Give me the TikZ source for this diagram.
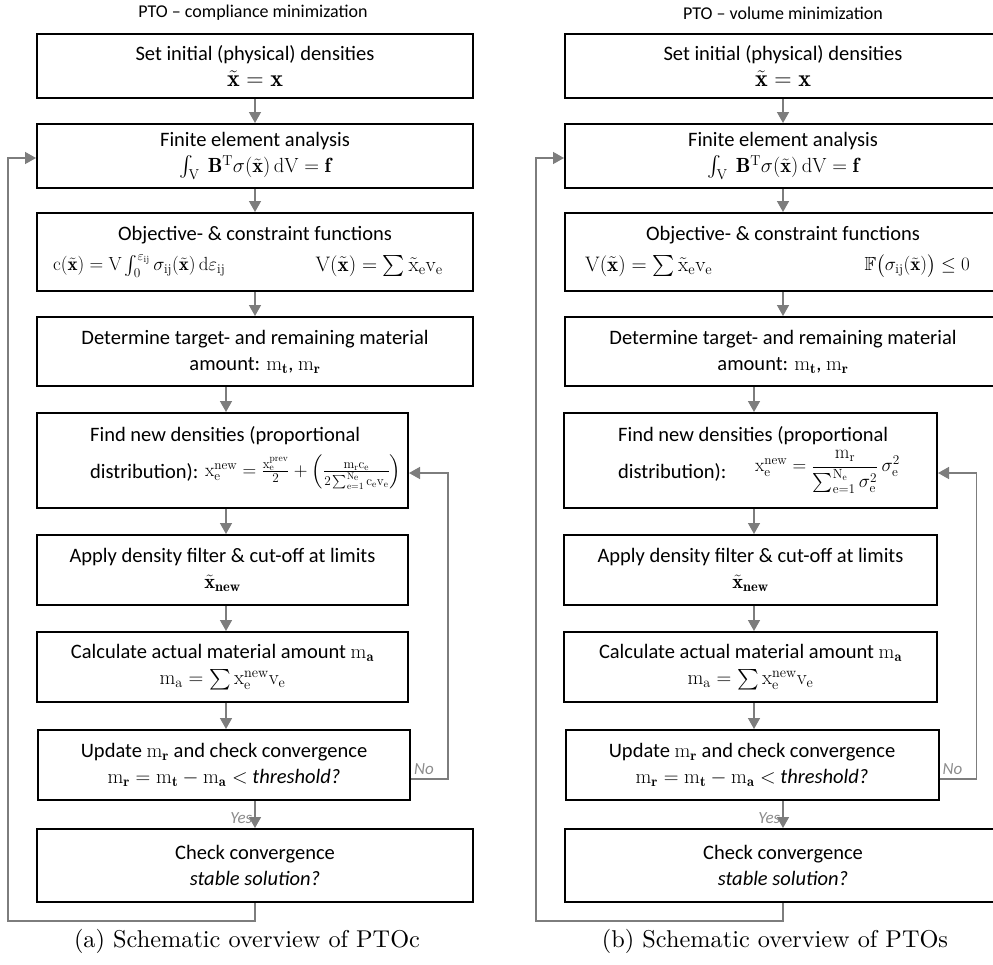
\RequirePackage{fix-cm}
\documentclass[tikz,border=0pt]{standalone}
\usepackage{amsmath,amssymb}
\usepackage{fontspec}
\newfontfamily\calibri{Carlito}
\newfontfamily\capfont{lmroman10-regular}[Extension=.otf]
\usetikzlibrary{arrows.meta}
\definecolor{conn}{RGB}{125,125,125}
\definecolor{labc}{RGB}{140,140,140}
\newcommand\mymathbig[1]{{\fontsize{24}{26}\selectfont#1}}
\begin{document}
\begin{tikzpicture}[x=1pt,y=-1pt,
  box/.style={draw=black, line width=2pt, inner sep=0pt, align=center,
    font=\calibri\fontsize{20.5}{26}\selectfont},
  txt/.style={inner sep=0pt, font=\calibri\fontsize{20.5}{26}\selectfont},
  arr/.style={draw=conn, line width=1.5pt, -{Triangle[width=12pt,length=11pt]}},
  lab/.style={inner sep=0pt, text=labc, font=\calibri\itshape\fontsize{17}{19}\selectfont},
  ttl/.style={inner sep=0pt, font=\calibri\fontsize{18}{20}\selectfont},
  captxt/.style={inner sep=0pt, font=\capfont\fontsize{24.3}{28}\selectfont}]
\useasboundingbox (0,0) rectangle (993,964);

% ---------------- left panel ----------------
\node[ttl] (tL) at (253,13) {PTO \textendash\ compliance minimization};
\node[box, minimum width=436pt, minimum height=64pt] (L1) at (255,66)
  {Set initial (physical) densities\\ \mymathbig{$\tilde{\mathbf{x}} = \mathbf{x}$}};
\node[box, minimum width=436pt, minimum height=64pt] (L2) at (255,156)
  {Finite element analysis\\ $\int_{\mathrm{V}}\ \mathbf{B}^{\mathrm{T}}\sigma(\tilde{\mathbf{x}})\,\mathrm{dV} = \mathbf{f}$};
\node[box, minimum width=436pt, minimum height=78pt] (L3) at (255,252) {};
\node[txt] (L3a) at (255,235) {Objective- \& constraint functions};
\node[txt, anchor=west, font=\calibri\fontsize{19}{25}\selectfont] (L3b) at (53,266)
  {$\mathrm{c}(\tilde{\mathbf{x}}) = \mathrm{V}\int_0^{\varepsilon_{\mathrm{ij}}}\sigma_{\mathrm{ij}}(\tilde{\mathbf{x}})\,\mathrm{d}\varepsilon_{\mathrm{ij}}$};
\node[txt, anchor=east, font=\calibri\fontsize{21}{26}\selectfont] (L3c) at (443,266)
  {$\mathrm{V}(\tilde{\mathbf{x}}) = \sum \tilde{\mathrm{x}}_{\mathrm{e}}\mathrm{v}_{\mathrm{e}}$};
\node[box, minimum width=436pt, minimum height=69pt] (L4) at (255,351.5)
  {Determine target- and remaining material\\ amount: $\mathrm{m}_{\mathbf{t}}$, $\mathrm{m}_{\mathbf{r}}$};
\node[box, minimum width=371pt, minimum height=95pt] (L5) at (222.5,460.5) {};
\node[txt, anchor=west] (L5a) at (90,436) {Find new densities (proportional};
\node[txt, anchor=west] (L5b) at (90,472) {distribution):};
\node[txt, anchor=west, font=\calibri\fontsize{19}{25}\selectfont] (L5c) at (205,472)
  {$\mathrm{x}_{\mathrm{e}}^{\mathrm{new}} = \frac{\mathrm{x}_{\mathrm{e}}^{\mathrm{prev}}}{2} + \left(\frac{\mathrm{m_r c_e}}{2\sum_{\mathrm{e}=1}^{\mathrm{N_e}}\mathrm{c_e v_e}}\right)$};
\node[box, minimum width=371pt, minimum height=70pt] (L6) at (222.5,570)
  {Apply density filter \& cut-off at limits\\ $\tilde{\mathbf{x}}_{\mathbf{new}}$};
\node[box, minimum width=371pt, minimum height=70pt] (L7) at (222.5,667)
  {Calculate actual material amount $\mathrm{m}_{\mathbf{a}}$\\ $\mathrm{m}_{\mathrm{a}} = \sum \mathrm{x}_{\mathrm{e}}^{\mathrm{new}}\mathrm{v}_{\mathrm{e}}$};
\node[box, minimum width=372pt, minimum height=70pt] (L8) at (224,765)
  {Update $\mathrm{m}_{\mathbf{r}}$ and check convergence\\ $\mathrm{m}_{\mathbf{r}} = \mathrm{m}_{\mathbf{t}} - \mathrm{m}_{\mathbf{a}} <$ \textit{threshold?}};
\node[box, minimum width=436pt, minimum height=73pt] (L9) at (255,865.5)
  {Check convergence\\ \textit{stable solution?}};
\node[captxt] (cL) at (247,941) {(a) Schematic overview of PTOc};

\draw[arr] (L1) -- (L2);
\draw[arr] (L2) -- (L3);
\draw[arr] (L3) -- (L4);
\draw[arr] ([xshift=3.5pt]L5.north |- L4.south) -- ([xshift=3.5pt]L5.north);
\draw[arr] ([xshift=3.5pt]L5.south) -- ([xshift=3.5pt]L6.north);
\draw[arr] ([xshift=3.5pt]L6.south) -- ([xshift=3.5pt]L7.north);
\draw[arr] ([xshift=3.5pt]L7.south) -- ([xshift=3.5pt]L7.south |- L8.north);
\draw[arr] (L9.north |- L8.south) -- node[lab, left=2pt, pos=0.62] (yL) {Yes} (L9.north);
\draw[arr] ([yshift=-14pt]L8.east) -- ++(37,0) |- ([yshift=-12.5pt]L5.east);
\node[lab, anchor=south west] (nL) at ([xshift=3pt,yshift=-10pt]L8.east) {No};
\coordinate (fbL) at (8,921);
\draw[arr] (L9.south) |- (fbL) |- ([yshift=-2pt]L2.west);

% ---------------- right panel ----------------
\node[ttl] (tR) at (783,13) {PTO \textendash\ volume minimization};
\node[box, minimum width=436pt, minimum height=64pt] (R1) at (783,66)
  {Set initial (physical) densities\\ \mymathbig{$\tilde{\mathbf{x}} = \mathbf{x}$}};
\node[box, minimum width=436pt, minimum height=64pt] (R2) at (783,156)
  {Finite element analysis\\ $\int_{\mathrm{V}}\ \mathbf{B}^{\mathrm{T}}\sigma(\tilde{\mathbf{x}})\,\mathrm{dV} = \mathbf{f}$};
\node[box, minimum width=436pt, minimum height=78pt] (R3) at (783,252) {};
\node[txt] (R3a) at (783,235) {Objective- \& constraint functions};
\node[txt, anchor=west, font=\calibri\fontsize{21}{26}\selectfont] (R3b) at (585,266)
  {$\mathrm{V}(\tilde{\mathbf{x}}) = \sum \tilde{\mathrm{x}}_{\mathrm{e}}\mathrm{v}_{\mathrm{e}}$};
\node[txt, anchor=east, font=\calibri\fontsize{19}{25}\selectfont] (R3c) at (970,266)
  {$\mathbb{F}\bigl(\sigma_{\mathrm{ij}}(\tilde{\mathbf{x}})\bigr) \le 0$};
\node[box, minimum width=436pt, minimum height=69pt] (R4) at (783,351.5)
  {Determine target- and remaining material\\ amount: $\mathrm{m}_{\mathbf{t}}$, $\mathrm{m}_{\mathbf{r}}$};
\node[box, minimum width=373pt, minimum height=95pt] (R5) at (750.5,460.5) {};
\node[txt, anchor=west] (R5a) at (618,436) {Find new densities (proportional};
\node[txt, anchor=west] (R5b) at (618,472) {distribution):};
\node[txt, anchor=west, font=\calibri\fontsize{19}{25}\selectfont] (R5c) at (755,472)
  {$\mathrm{x}_{\mathrm{e}}^{\mathrm{new}} = \dfrac{\mathrm{m_r}}{\sum_{\mathrm{e}=1}^{\mathrm{N_e}}\sigma_{\mathrm{e}}^2}\,\sigma_{\mathrm{e}}^2$};
\node[box, minimum width=373pt, minimum height=70pt] (R6) at (750.5,570)
  {Apply density filter \& cut-off at limits\\ $\tilde{\mathbf{x}}_{\mathbf{new}}$};
\node[box, minimum width=373pt, minimum height=70pt] (R7) at (750.5,667)
  {Calculate actual material amount $\mathrm{m}_{\mathbf{a}}$\\ $\mathrm{m}_{\mathrm{a}} = \sum \mathrm{x}_{\mathrm{e}}^{\mathrm{new}}\mathrm{v}_{\mathrm{e}}$};
\node[box, minimum width=373pt, minimum height=70pt] (R8) at (752,765)
  {Update $\mathrm{m}_{\mathbf{r}}$ and check convergence\\ $\mathrm{m}_{\mathbf{r}} = \mathrm{m}_{\mathbf{t}} - \mathrm{m}_{\mathbf{a}} <$ \textit{threshold?}};
\node[box, minimum width=436pt, minimum height=73pt] (R9) at (783,865.5)
  {Check convergence\\ \textit{stable solution?}};
\node[captxt] (cR) at (775,941) {(b) Schematic overview of PTOs};

\draw[arr] (R1) -- (R2);
\draw[arr] (R2) -- (R3);
\draw[arr] (R3) -- (R4);
\draw[arr] ([xshift=3.5pt]R5.north |- R4.south) -- ([xshift=3.5pt]R5.north);
\draw[arr] ([xshift=3.5pt]R5.south) -- ([xshift=3.5pt]R6.north);
\draw[arr] ([xshift=3.5pt]R6.south) -- ([xshift=3.5pt]R7.north);
\draw[arr] ([xshift=3.5pt]R7.south) -- ([xshift=3.5pt]R7.south |- R8.north);
\draw[arr] (R9.north |- R8.south) -- node[lab, left=2pt, pos=0.62] (yR) {Yes} (R9.north);
\draw[arr] ([yshift=-14pt]R8.east) -- ++(37,0) |- ([yshift=-12.5pt]R5.east);
\node[lab, anchor=south west] (nR) at ([xshift=3pt,yshift=-10pt]R8.east) {No};
\coordinate (fbR) at (536,921);
\draw[arr] (R9.south) |- (fbR) |- ([yshift=-2pt]R2.west);
\end{tikzpicture}
\end{document}
